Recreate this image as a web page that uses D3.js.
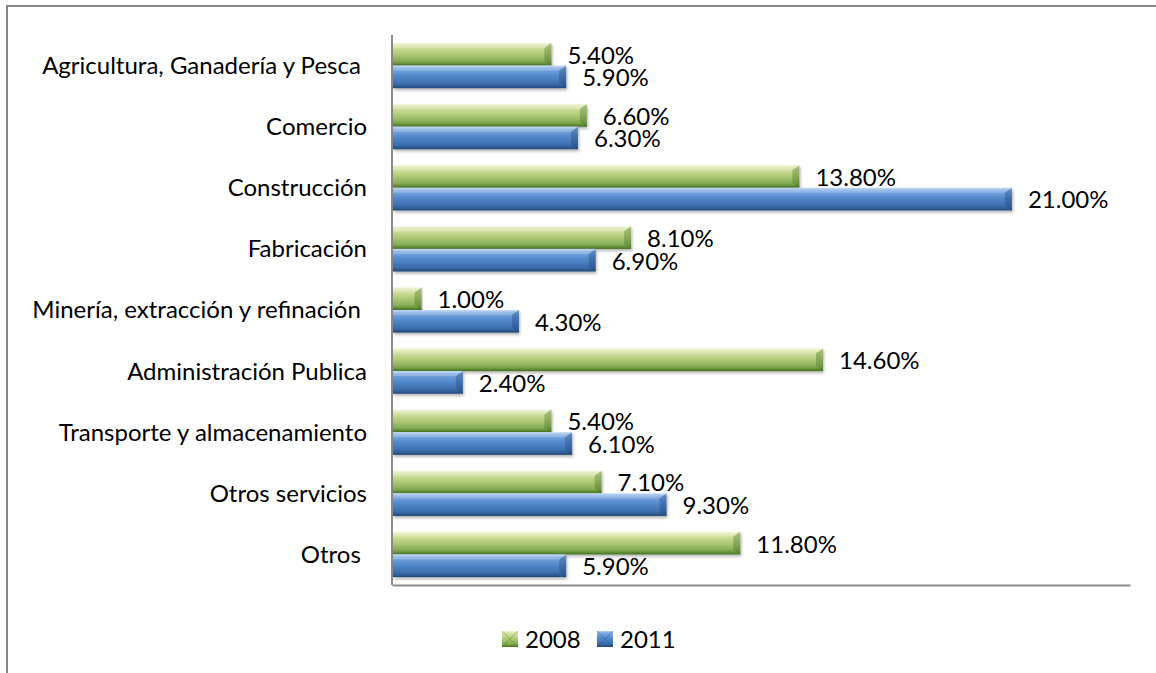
<!DOCTYPE html>
<html>
<head>
<meta charset="utf-8">
<script src="https://cdn.jsdelivr.net/npm/d3@7"></script>
<style>
  html, body { margin: 0; padding: 0; background: #fff; }
  svg { display: block; }
  text { font-family: Lato, "Open Sans", sans-serif; fill: #000; }
</style>
</head>
<body>
<svg id="chart" width="1156" height="673"></svg>
<script>
const categories = [
  "Agricultura, Ganadería y Pesca ",
  "Comercio",
  "Construcción",
  "Fabricación",
  "Minería, extracción y refinación ",
  "Administración Publica",
  "Transporte y almacenamiento",
  "Otros servicios",
  "Otros "
];
const seriesNames = ["2008", "2011"];
const values2008 = [5.4, 6.6, 13.8, 8.1, 1.0, 14.6, 5.4, 7.1, 11.8];
const values2011 = [5.9, 6.3, 21.0, 6.9, 4.3, 2.4, 6.1, 9.3, 5.9];
const xDomain = [0, 25];

const svg = d3.select("#chart");
const W = 1156, H = 673;
const plot = { left: 392, right: 1130, top: 35, bottom: 585 };

// frame (cropped at right and bottom)
svg.append("path")
  .attr("d", `M7,${H + 2} L7,6 L${W + 2},6`)
  .attr("fill", "none").attr("stroke", "#878787").attr("stroke-width", 2);

const defs = svg.append("defs");
function grad(id, stops) {
  const g = defs.append("linearGradient").attr("id", id)
    .attr("x1", 0).attr("y1", 0).attr("x2", 0).attr("y2", 1);
  stops.forEach(s => g.append("stop").attr("offset", s[0]).attr("stop-color", s[1]));
}
grad("g2008", [[0, "#eef4cf"], [0.12, "#d9e6a8"], [0.45, "#b4cd7c"], [0.8, "#86ad55"], [0.92, "#5f8d35"], [1, "#3f6b1f"]]);
grad("g2011", [[0, "#b8d3f2"], [0.12, "#7fabe3"], [0.45, "#5288cd"], [0.8, "#3c6eae"], [0.92, "#2d5a92"], [1, "#1f4372"]]);
const f = defs.append("filter").attr("id", "shadow").attr("x", "-5%").attr("y", "-30%").attr("width", "110%").attr("height", "180%");
f.append("feDropShadow").attr("dx", 1).attr("dy", 2).attr("stdDeviation", 1.6).attr("flood-color", "#000").attr("flood-opacity", 0.3);

const x = d3.scaleLinear().domain(xDomain).range([plot.left, plot.right]);
const y = d3.scaleBand().domain(categories).range([plot.top, plot.bottom]).paddingInner(0.26).paddingOuter(0.13);
const inner = d3.scaleBand().domain(seriesNames).range([0, y.bandwidth()]);

const data = [];
categories.forEach((c, i) => {
  data.push({ cat: c, s: "2008", v: values2008[i] });
  data.push({ cat: c, s: "2011", v: values2011[i] });
});

// axes
svg.append("g").attr("transform", `translate(0,${plot.bottom})`)
  .call(d3.axisBottom(x).tickValues([]).tickSizeOuter(0))
  .call(g => g.select(".domain").attr("stroke", "#8c8c8c").attr("stroke-width", 2));
const yAxis = svg.append("g").attr("transform", `translate(${plot.left},0)`)
  .call(d3.axisLeft(y).tickSize(0).tickPadding(25))
  .call(g => g.select(".domain").remove());
yAxis.selectAll("text")
  .attr("font-size", 24).attr("font-family", "Lato, 'Open Sans', sans-serif")
  .attr("fill", "#000").style("white-space", "pre").attr("dy", "0.35em");

svg.append("line")
  .attr("x1", plot.left).attr("x2", plot.left).attr("y1", plot.top).attr("y2", plot.bottom)
  .attr("stroke", "#8c8c8c").attr("stroke-width", 2);

// bars
const bars = svg.append("g").selectAll("g.bar").data(data).join("g").attr("class", "bar")
  .attr("filter", "url(#shadow)");
bars.append("rect")
  .attr("x", x(0) + 1)
  .attr("y", d => y(d.cat) + inner(d.s))
  .attr("width", d => x(d.v) - x(0) - 1)
  .attr("height", inner.bandwidth())
  .attr("fill", d => d.s === "2008" ? "url(#g2008)" : "url(#g2011)");
// bevel on right end
bars.append("path")
  .attr("d", d => {
    const x1 = x(d.v), y0 = y(d.cat) + inner(d.s), h = inner.bandwidth();
    const b = Math.min(7, (x1 - x(0)) / 2);
    return `M${x1},${y0} L${x1 - b},${y0 + 5} L${x1 - b},${y0 + h - 5} L${x1},${y0 + h} Z`;
  })
  .attr("fill", d => d.s === "2008" ? "#3f6b1f" : "#1f4372")
  .attr("opacity", 0.35);
// top highlight
bars.append("path")
  .attr("d", d => {
    const x1 = x(d.v), y0 = y(d.cat) + inner(d.s);
    const b = Math.min(7, (x1 - x(0)) / 2);
    return `M${x(0) + 1},${y0} L${x1},${y0} L${x1 - b},${y0 + 5} L${x(0) + 1},${y0 + 5} Z`;
  })
  .attr("fill", "#fff").attr("opacity", 0.2);

// value labels
svg.append("g").selectAll("text").data(data).join("text")
  .attr("x", d => x(d.v) + 16)
  .attr("y", d => y(d.cat) + inner(d.s) + inner.bandwidth() / 2 + 1)
  .attr("dy", "0.35em")
  .attr("font-size", 24)
  .text(d => d.v.toFixed(2) + "%");

// legend
const legendItems = [
  { name: "2008", fill: "url(#g2008)", dark: "#3f6b1f", x: 502 },
  { name: "2011", fill: "url(#g2011)", dark: "#1f4372", x: 597 }
];
const lg = svg.append("g").selectAll("g").data(legendItems).join("g")
  .attr("transform", d => `translate(${d.x},631)`);
lg.append("rect").attr("width", 16).attr("height", 16).attr("fill", d => d.fill);
lg.append("path").attr("d", "M0,0 L8,8 L16,0 M0,16 L8,8 L16,16")
  .attr("stroke", d => d.dark).attr("stroke-opacity", 0.35).attr("fill", "none");
lg.append("text").attr("x", 23).attr("y", 9).attr("dy", "0.35em")
  .attr("font-size", 24).text(d => d.name);
</script>
</body>
</html>
